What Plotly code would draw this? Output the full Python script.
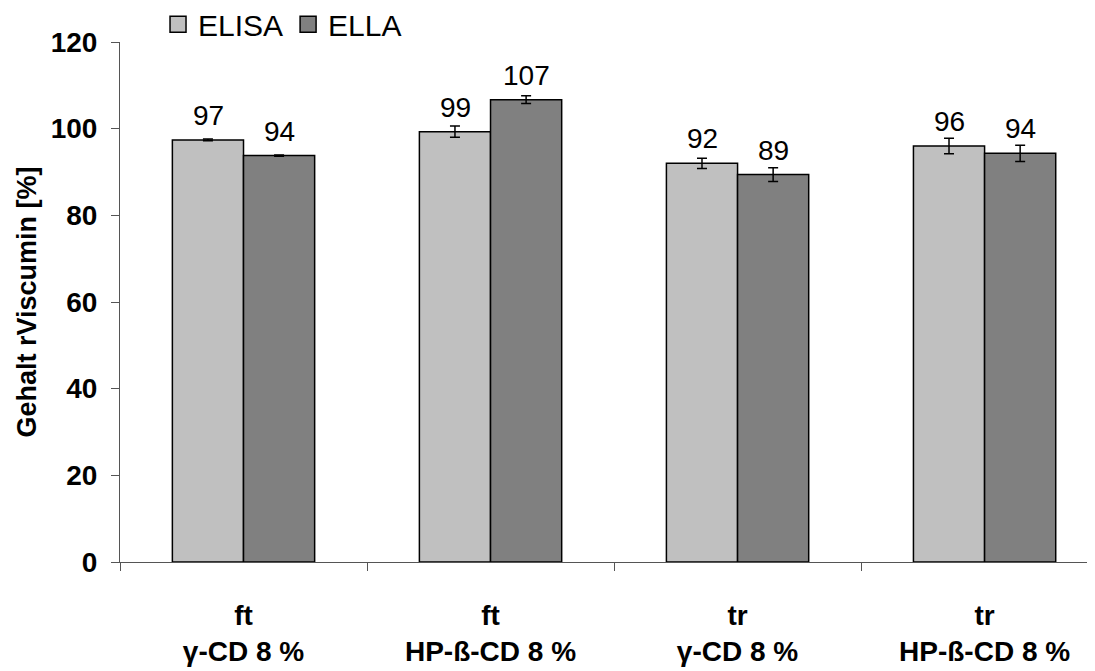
import plotly.graph_objects as go

categories = ["ft<br>γ-CD 8 %", "ft<br>HP-ß-CD 8 %", "tr<br>γ-CD 8 %", "tr<br>HP-ß-CD 8 %"]
elisa = [97.4, 99.3, 92.0, 96.0]
ella = [93.8, 106.7, 89.4, 94.3]
elisa_err = [0.2, 1.3, 1.2, 1.8]
ella_err = [0.15, 0.9, 1.6, 1.9]

FONT = "Liberation Sans, Arial, sans-serif"
COLORS = {"ELISA": "#C0C0C0", "ELLA": "#808080"}

fig = go.Figure()
series = [("ELISA", elisa, elisa_err, -35.5), ("ELLA", ella, ella_err, 35.5)]
for name, vals, errs, shift in series:
    fig.add_trace(go.Bar(
        name=name, x=categories, y=vals, showlegend=False,
        marker=dict(color=COLORS[name], line=dict(color="#000000", width=1.5)),
        error_y=dict(type="data", array=errs, visible=True, color="#000000",
                     thickness=1.5, width=5),
        cliponaxis=False,
    ))
    for c, v in zip(categories, vals):
        fig.add_annotation(x=c, y=v, xref="x", yref="y", text=f"{v:.0f}",
                           showarrow=False, xshift=shift, yshift=7,
                           yanchor="bottom", xanchor="center",
                           font=dict(family=FONT, size=28, color="#000000"))

# legend entries
for name in ["ELISA", "ELLA"]:
    fig.add_trace(go.Scatter(
        name=name, x=[None], y=[None], mode="markers",
        marker=dict(symbol="square", size=16, color=COLORS[name],
                    line=dict(color="#000000", width=1.5)),
    ))

fig.update_layout(
    width=1095, height=671,
    margin=dict(l=112, r=8, t=34, b=117, autoexpand=False),
    paper_bgcolor="white", plot_bgcolor="white",
    barmode="group", bargap=0.424, bargroupgap=0,
    font=dict(family=FONT, color="#000000"),
    showlegend=True,
    legend=dict(orientation="h", x=0.039, y=1.034, xanchor="left", yanchor="middle",
                font=dict(family=FONT, size=30, color="#000000"),
                itemwidth=30, itemsizing="trace", tracegroupgap=0,
                bgcolor="rgba(0,0,0,0)"),
    xaxis=dict(
        type="category", range=[-0.5, 3.447], automargin=False,
        tickson="boundaries", ticks="outside", ticklen=8, tickcolor="#555555",
        showline=True, linecolor="#555555", linewidth=1,
        showgrid=False, zeroline=False,
        tickfont=dict(family=FONT, size=28, color="#000000", weight="bold"),
        ticklabelstandoff=28,
    ),
    yaxis=dict(
        range=[0, 120], dtick=20, tick0=0, automargin=False,
        ticks="outside", ticklen=8, tickcolor="#555555",
        showline=True, linecolor="#555555", linewidth=1,
        showgrid=False, zeroline=False,
        tickfont=dict(family=FONT, size=28, color="#000000", weight="bold"),
        ticklabelstandoff=8,
        title=dict(text="Gehalt rViscumin [%]", standoff=6,
                   font=dict(family=FONT, size=27, color="#000000", weight="bold")),
    ),
)

fig.write_html("out.html")
